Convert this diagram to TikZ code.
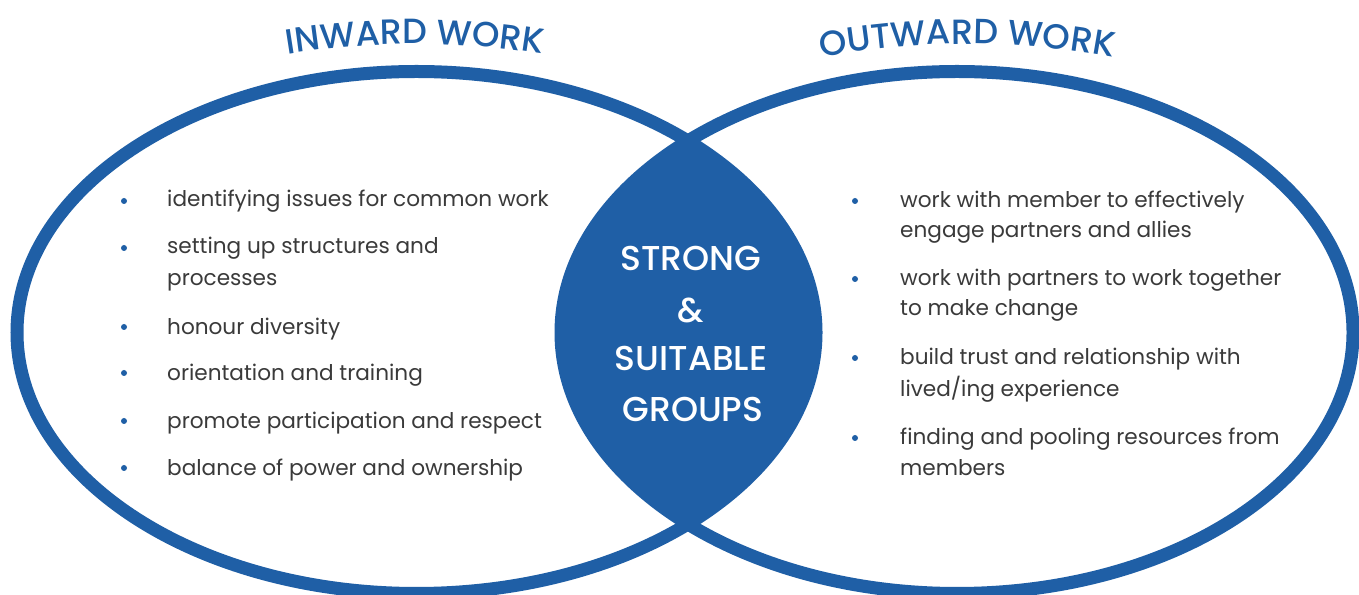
\documentclass[tikz,border=0pt]{standalone}
\usepackage{fontspec}
\setmainfont{Poppins}
\newfontfamily\medfont{Poppins Medium}
\usetikzlibrary{decorations.text}
\definecolor{brandblue}{RGB}{31,95,166}
\definecolor{bodygrey}{RGB}{58,58,58}
\newcommand\titlestyle{\medfont\fontsize{35}{40}\selectfont\color{brandblue}}

\begin{document}
\begin{tikzpicture}[x=1pt,y=1pt,
  ring/.style={draw=brandblue, line width=13pt},
  item/.style={anchor=mid west, inner sep=0pt, text=bodygrey, font=\fontsize{21.6}{26}\selectfont},
  dot/.style={circle, fill=brandblue, inner sep=0pt, minimum size=6pt},
  core/.style={text=white, inner sep=0pt, font=\medfont\fontsize{34.5}{40}\selectfont},
  arctitle/.style={decorate, decoration={text along path, text align=center, text={|\titlestyle|#1}}}]
\useasboundingbox (0,0) rectangle (1359,594);
\fill[white] (0,0) rectangle (1359,594);

% centres of the two circles of work
\coordinate (inC) at (416.5,261.5);
\coordinate (outC) at (957,261.5);

% shared lens
\begin{scope}
  \clip (inC) ellipse [x radius=399.5pt, y radius=261pt];
  \fill[brandblue] (outC) ellipse [x radius=396pt, y radius=261pt];
\end{scope}

% outlines
\draw[ring] (inC) ellipse [x radius=399.5pt, y radius=261pt];
\draw[ring] (outC) ellipse [x radius=396pt, y radius=261pt];

% curved headings
\coordinate (inArc) at (415,-250);
\coordinate (outArc) at (967,-250);
\path[arctitle={INWARD WORK}] (inArc) ++(102:800pt) arc[start angle=102, end angle=78, radius=800pt];
\path[arctitle={OUTWARD WORK}] (outArc) ++(102:800pt) arc[start angle=102, end angle=78, radius=800pt];

% centre label
\node[core] (c1) at (691,336) {STRONG};
\node[core] (c2) at (691,284) {\&};
\node[core] (c3) at (691,235.5) {SUITABLE};
\node[core] (c4) at (693,185) {GROUPS};

% inward list
\node[dot] (lb1) at (124,393) {};
\node[item] (l1) at (167,390) {identifying issues for common work};
\node[dot] (lb2) at (124,346) {};
\node[item] (l2a) at (167,343) {setting up structures and};
\node[item] (l2b) at (167,311) {processes};
\node[dot] (lb3) at (124,267) {};
\node[item] (l3) at (167,262) {honour diversity};
\node[dot] (lb4) at (124,221) {};
\node[item] (l4) at (167,216) {orientation and training};
\node[dot] (lb5) at (124,173) {};
\node[item] (l5) at (167,168) {promote participation and respect};
\node[dot] (lb6) at (124,126) {};
\node[item] (l6) at (167,121) {balance of power and ownership};

% outward list
\node[dot] (rb1) at (855,393) {};
\node[item] (r1a) at (900,389) {work with member to effectively};
\node[item] (r1b) at (900,359) {engage partners and allies};
\node[dot] (rb2) at (855,315) {};
\node[item] (r2a) at (900,311) {work with partners to work together};
\node[item] (r2b) at (900,281) {to make change};
\node[dot] (rb3) at (855,236) {};
\node[item] (r3a) at (900,232) {build trust and relationship with};
\node[item] (r3b) at (900,200) {lived/ing experience};
\node[dot] (rb4) at (855,156) {};
\node[item] (r4a) at (900,152) {finding and pooling resources from};
\node[item] (r4b) at (900,121) {members};
\end{tikzpicture}
\end{document}
